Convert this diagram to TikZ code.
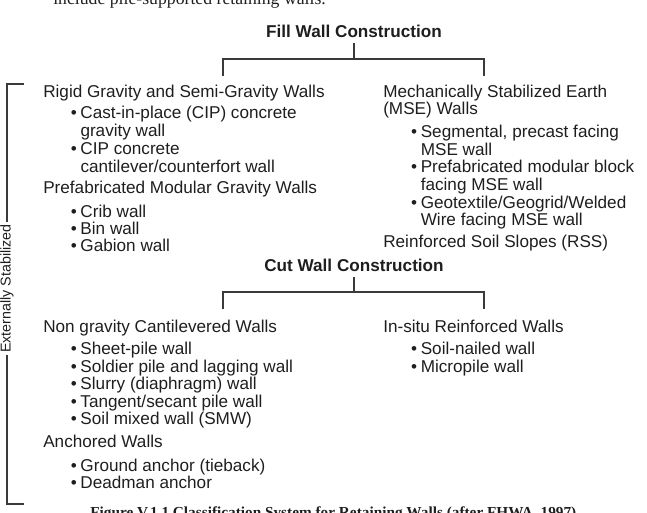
\documentclass[tikz,border=0pt,12pt]{standalone}
\usepackage{fontspec}
\setmainfont{Liberation Serif}
\setsansfont{Liberation Sans}
\usepackage{tikz}
\usetikzlibrary{positioning, calc}
\definecolor{cText}{HTML}{1E1E1E}
\definecolor{cLine}{HTML}{3A3A3A}
\newcommand{\itemdot}{\makebox[6.8pt][l]{\textbullet}}
\newcommand{\itemind}{\hspace*{6.8pt}}
\tikzset{
  title/.style={font=\sffamily\bfseries, text=cText, anchor=base,
    inner sep=4.2pt, text depth=0pt},
  head/.style={font=\sffamily, text=cText, anchor=base west, inner sep=0pt},
  item/.style={head},
  tree/.style={line width=1.1pt, draw=cLine},
  side/.style={font=\sffamily\footnotesize, text=cText, rotate=90,
    inner xsep=1.4pt, inner ysep=0pt},
  pagetxt/.style={font=\rmfamily\fontsize{12.4}{14}\selectfont, text=cText,
    anchor=base west, inner sep=0pt},
  captxt/.style={font=\rmfamily\bfseries\fontsize{10.7}{12}\selectfont,
    text=cText, anchor=base west, inner sep=0pt},
}

\begin{document}
\begin{tikzpicture}[x=0.7pt, y=-0.7pt]
  \useasboundingbox (0,0) rectangle (647,513);

  % Page text cut off at top and bottom
  \node[pagetxt] (pageline) at (53,4)  {include pile-supported retaining walls.};
  \node[captxt]  (caption)  at (90,517) {Figure V.1.1 Classification System for Retaining Walls (after FHWA, 1997)};

  % Fill wall construction
  \node[title] (fill) at (354,37) {Fill Wall Construction};
  \coordinate (fillj) at (354,59);
  \coordinate (fillL) at (223,76);
  \coordinate (fillR) at (484,76);

  % Fill: left column
  \node[head] (rigid)  at (43,97)    {Rigid Gravity and Semi-Gravity Walls};
  \node[item] (cip)    at (70.5,118) {\itemdot Cast-in-place (CIP) concrete};
  \node[item] (cipb)   at (70.5,136) {\itemind gravity wall};
  \node[item] (cant)   at (70.5,154) {\itemdot CIP concrete};
  \node[item] (cantb)  at (70.5,172) {\itemind cantilever/counterfort wall};
  \node[head] (prefab) at (43,193)   {Prefabricated Modular Gravity Walls};
  \node[item] (crib)   at (70.5,217) {\itemdot Crib wall};
  \node[item] (bin)    at (70.5,234) {\itemdot Bin wall};
  \node[item] (gabion) at (70.5,251) {\itemdot Gabion wall};

  % Fill: right column
  \node[head] (mse)    at (383,97)    {Mechanically Stabilized Earth};
  \node[head] (mseb)   at (383,114)   {(MSE) Walls};
  \node[item] (seg)    at (410.8,137) {\itemdot Segmental, precast facing};
  \node[item] (segb)   at (410.8,155) {\itemind MSE wall};
  \node[item] (pmb)    at (410.8,172) {\itemdot Prefabricated modular block};
  \node[item] (pmbb)   at (410.8,190) {\itemind facing MSE wall};
  \node[item] (geo)    at (410.8,208) {\itemdot Geotextile/Geogrid/Welded};
  \node[item] (geob)   at (410.8,225) {\itemind Wire facing MSE wall};
  \node[head] (rss)    at (383,247)   {Reinforced Soil Slopes (RSS)};

  % Cut wall construction
  \node[title] (cut) at (354,271) {Cut Wall Construction};
  \coordinate (cutj) at (354,292);
  \coordinate (cutL) at (223,309);
  \coordinate (cutR) at (484,309);

  % Cut: left column
  \node[head] (nongr)   at (43,332)   {Non gravity Cantilevered Walls};
  \node[item] (sheet)   at (70.5,354) {\itemdot Sheet-pile wall};
  \node[item] (soldier) at (70.5,372) {\itemdot Soldier pile and lagging wall};
  \node[item] (slurry)  at (70.5,389) {\itemdot Slurry (diaphragm) wall};
  \node[item] (tangent) at (70.5,407) {\itemdot Tangent/secant pile wall};
  \node[item] (smw)     at (70.5,424) {\itemdot Soil mixed wall (SMW)};
  \node[head] (anchored) at (43,447)  {Anchored Walls};
  \node[item] (ground)  at (70.5,471) {\itemdot Ground anchor (tieback)};
  \node[item] (deadman) at (70.5,488) {\itemdot Deadman anchor};

  % Cut: right column
  \node[head] (insitu)  at (383,332)   {In-situ Reinforced Walls};
  \node[item] (nailed)  at (410.8,354) {\itemdot Soil-nailed wall};
  \node[item] (micro)   at (410.8,372) {\itemdot Micropile wall};

  % Side bracket
  \node[side] (ext) at (7,288.5) {Externally Stabilized};
  \coordinate (brt) at (24,84);
  \coordinate (brb) at (24,504);

  % Bracket lines
  \draw[tree] (fill.south) -- (fillj);
  \draw[tree] (fillL) -- (fillL |- fillj) -- (fillR |- fillj) -- (fillR);
  \draw[tree] (cut.south) -- (cutj);
  \draw[tree] (cutL) -- (cutL |- cutj) -- (cutR |- cutj) -- (cutR);
  \draw[tree] (brt) -- (brt -| ext) -- (ext.east);
  \draw[tree] (ext.west) -- (brb -| ext) -- (brb);

\end{tikzpicture}
\end{document}
